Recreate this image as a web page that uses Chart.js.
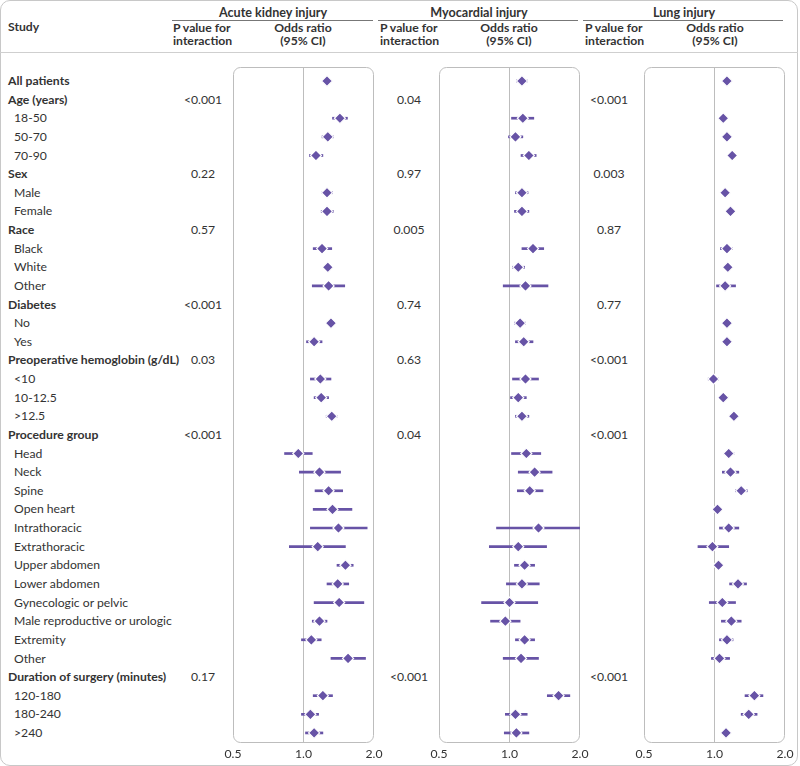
<!DOCTYPE html>
<html>
<head>
<meta charset="utf-8">
<script src="https://cdn.jsdelivr.net/npm/chart.js@4.4.1/dist/chart.umd.min.js"></script>
<style>
  body { margin: 0; background: #fff; }
  #fig { position: relative; width: 800px; height: 766px; overflow: hidden;
         font-family: "Lato", "Noto Sans", sans-serif; color: #333; font-size: 12.2px; }
  .frame { position: absolute; left: 0; top: 0; width: 798px; height: 766px; box-sizing: border-box;
           border: 1px solid #c8c8c8; border-radius: 10px; }
  .t { position: absolute; white-space: nowrap; line-height: 14px; }
  .b { font-weight: bold; }
  .c { transform: translateX(-50%); text-align: center; }
  .ttl { font-size: 12.6px; }
  .hl { position: absolute; height: 0; border-top: 1px solid #777; }
  .panel { position: absolute; top: 57px; }
</style>
</head>
<body>
<div id="fig">
  <div class="frame"></div>

  <div class="t b" style="left:8px;top:20px">Study</div>

  <div class="t b c ttl" style="left:273px;top:6px">Acute kidney injury</div>
  <div class="t b c ttl" style="left:479px;top:6px">Myocardial injury</div>
  <div class="t b c ttl" style="left:684px;top:6px">Lung injury</div>
  <div class="hl" style="left:172px;top:20px;width:201px"></div>
  <div class="hl" style="left:378px;top:20px;width:200px"></div>
  <div class="hl" style="left:583px;top:20px;width:200px"></div>

  <div class="t b" style="left:173px;top:21px;line-height:13px">P value for<br>interaction</div>
  <div class="t b c" style="left:303px;top:21px;line-height:13px">Odds ratio<br>(95% CI)</div>
  <div class="t b" style="left:380px;top:21px;line-height:13px">P value for<br>interaction</div>
  <div class="t b c" style="left:509px;top:21px;line-height:13px">Odds ratio<br>(95% CI)</div>
  <div class="t b" style="left:585px;top:21px;line-height:13px">P value for<br>interaction</div>
  <div class="t b c" style="left:715px;top:21px;line-height:13px">Odds ratio<br>(95% CI)</div>

  <div class="hl" style="left:0;top:52px;width:798px;border-color:#cfcfcf"></div>

  <div id="labels"></div>

  <div class="panel" style="left:213px"><canvas id="aki" width="181" height="708"></canvas></div>
  <div class="panel" style="left:419px"><canvas id="mi" width="181" height="708"></canvas></div>
  <div class="panel" style="left:624px"><canvas id="lung" width="176" height="708"></canvas></div>
</div>

<script>
// ---------- data ----------
const rowLabels = [
  'All patients', 'Age (years)', '18-50', '50-70', '70-90',
  'Sex', 'Male', 'Female',
  'Race', 'Black', 'White', 'Other',
  'Diabetes', 'No', 'Yes',
  'Preoperative hemoglobin (g/dL)', '<10', '10-12.5', '>12.5',
  'Procedure group', 'Head', 'Neck', 'Spine', 'Open heart', 'Intrathoracic', 'Extrathoracic',
  'Upper abdomen', 'Lower abdomen', 'Gynecologic or pelvic', 'Male reproductive or urologic',
  'Extremity', 'Other',
  'Duration of surgery (minutes)', '120-180', '180-240', '>240'
];
const rowBold = [1,1,0,0,0, 1,0,0, 1,0,0,0, 1,0,0, 1,0,0,0, 1,0,0,0,0,0,0,0,0,0,0,0,0, 1,0,0,0];

const xTicks = [0.5, 1, 2];

// acute kidney injury
const akiP  = [null,'<0.001',null,null,null,'0.22',null,null,'0.57',null,null,null,'<0.001',null,null,'0.03',null,null,null,'<0.001',null,null,null,null,null,null,null,null,null,null,null,null,'0.17',null,null,null];
const akiOR = [1.26,null,1.43,1.27,1.13,null,1.26,1.26,null,1.20,1.27,1.28,null,1.31,1.11,null,1.18,1.19,1.32,null,0.95,1.17,1.28,1.33,1.41,1.15,1.51,1.40,1.42,1.17,1.08,1.55,null,1.21,1.07,1.11];
const akiLo = [1.24,null,1.33,1.20,1.06,null,1.20,1.19,null,1.10,1.23,1.09,null,1.26,1.03,null,1.07,1.11,1.25,null,0.83,0.96,1.12,1.10,1.07,0.87,1.39,1.26,1.11,1.09,0.98,1.31,null,1.10,0.98,1.02];
const akiHi = [1.28,null,1.54,1.34,1.21,null,1.33,1.34,null,1.32,1.32,1.50,null,1.36,1.20,null,1.31,1.28,1.39,null,1.09,1.44,1.47,1.61,1.87,1.51,1.63,1.56,1.81,1.26,1.19,1.84,null,1.33,1.16,1.21];

// myocardial injury
const miP  = [null,'0.04',null,null,null,'0.97',null,null,'0.005',null,null,null,'0.74',null,null,'0.63',null,null,null,'0.04',null,null,null,null,null,null,null,null,null,null,null,null,'<0.001',null,null,null];
const miOR = [1.13,null,1.14,1.06,1.21,null,1.13,1.13,null,1.26,1.09,1.17,null,1.11,1.15,null,1.17,1.09,1.13,null,1.18,1.28,1.22,null,1.33,1.09,1.16,1.13,1.00,0.96,1.16,1.12,null,1.62,1.06,1.07];
const miLo = [1.07,null,1.02,0.99,1.12,null,1.06,1.05,null,1.13,1.03,0.94,null,1.05,1.06,null,1.03,1.01,1.06,null,1.02,1.09,1.08,null,0.88,0.82,1.05,0.97,0.76,0.83,1.06,0.94,null,1.45,0.96,0.95];
const miHi = [1.19,null,1.27,1.14,1.30,null,1.20,1.21,null,1.40,1.16,1.46,null,1.17,1.26,null,1.33,1.18,1.21,null,1.36,1.52,1.39,null,2.00,1.44,1.28,1.34,1.32,1.11,1.28,1.33,null,1.81,1.19,1.21];

// lung injury
const lungP  = [null,'<0.001',null,null,null,'0.003',null,null,'0.87',null,null,null,'0.77',null,null,'<0.001',null,null,null,'<0.001',null,null,null,null,null,null,null,null,null,null,null,null,'<0.001',null,null,null];
const lungOR = [1.13,null,1.09,1.13,1.19,null,1.11,1.17,null,1.13,1.14,1.11,null,1.13,1.13,null,0.99,1.09,1.21,null,1.15,1.17,1.30,1.03,1.15,0.98,1.04,1.26,1.08,1.18,1.13,1.05,null,1.48,1.40,1.12];
const lungLo = [1.11,null,1.06,1.10,1.16,null,1.08,1.14,null,1.06,1.10,1.02,null,1.10,1.10,null,0.94,1.05,1.16,null,1.10,1.08,1.23,0.99,1.05,0.85,1.00,1.16,0.95,1.07,1.05,0.97,null,1.35,1.30,1.09];
const lungHi = [1.15,null,1.12,1.16,1.22,null,1.14,1.20,null,1.19,1.17,1.23,null,1.16,1.16,null,1.04,1.14,1.26,null,1.21,1.27,1.38,1.07,1.27,1.15,1.08,1.37,1.23,1.30,1.20,1.16,null,1.61,1.52,1.15];

const purple = '#6753a6';

// ---------- row labels + p values (html text) ----------
const firstRowY = 81, rowStep = 18.63;
function rowY(i){ return firstRowY + i * rowStep; }

const labelsDiv = document.getElementById('labels');
function addText(txt, left, top, cls){
  const d = document.createElement('div');
  d.className = 't ' + (cls || '');
  d.style.left = left + 'px';
  d.style.top = top + 'px';
  d.textContent = txt;
  labelsDiv.appendChild(d);
}
rowLabels.forEach((lab, i) => {
  const top = rowY(i) - 7;
  addText(lab, rowBold[i] ? 8 : 14, top, rowBold[i] ? 'b' : '');
  [[akiP, 203], [miP, 409], [lungP, 609]].forEach(([arr, cx]) => {
    if(arr[i]) addText(arr[i], cx, top, 'c');
  });
});

// ---------- panels ----------
const boxPlugin = {
  id: 'panelBox',
  beforeDatasetsDraw(chart){
    const { ctx, chartArea: a } = chart;
    ctx.save();
    ctx.strokeStyle = '#bdbdbd';
    ctx.lineWidth = 1;
    ctx.beginPath();
    ctx.roundRect(a.left + 0.5, a.top + 0.5, a.width - 1, a.height - 1, 7);
    ctx.stroke();
    ctx.restore();
  }
};

function makePanel(id, or, lo, hi, padL, padR){
  const bars = [], pts = [];
  or.forEach((v, i) => {
    if(v == null) return;
    bars.push({ x: [lo[i], hi[i]], y: i });
    pts.push({ x: v, y: i });
  });
  return new Chart(document.getElementById(id), {
    type: 'bar',
    data: {
      datasets: [
        { type: 'scatter', data: pts, pointStyle: 'rectRot', pointRadius: 5.5,
          backgroundColor: purple, borderColor: '#fff', borderWidth: 1.2, order: 0 },
        { type: 'bar', data: bars, backgroundColor: purple, barThickness: 2, order: 1 }
      ]
    },
    options: {
      indexAxis: 'y',
      responsive: false,
      animation: false,
      layout: { padding: { left: padL, right: padR, top: 10, bottom: 0 } },
      plugins: { legend: { display: false }, tooltip: { enabled: false } },
      scales: {
        x: {
          type: 'logarithmic', min: 0.5, max: 2,
          afterBuildTicks: ax => { ax.ticks = xTicks.map(v => ({ value: v })); },
          afterFit: ax => { ax.height = 22; },
          grid: { drawTicks: false, color: c => (c.tick && c.tick.value === 1) ? '#bdbdbd' : 'rgba(0,0,0,0)' },
          border: { display: false },
          ticks: { padding: 4, color: '#333', autoSkip: false, maxRotation: 0,
                   font: { family: 'Lato', size: 12.2 },
                   callback: v => Number(v).toFixed(1) }
        },
        y: { type: 'linear', reverse: true, min: -0.75, max: 35.54, offset: false,
             grid: { offset: false }, display: false }
      }
    },
    plugins: [boxPlugin]
  });
}

makePanel('aki', akiOR, akiLo, akiHi, 20, 20);
makePanel('mi', miOR, miLo, miHi, 20, 20);
makePanel('lung', lungOR, lungLo, lungHi, 20, 15);
</script>
</body>
</html>
